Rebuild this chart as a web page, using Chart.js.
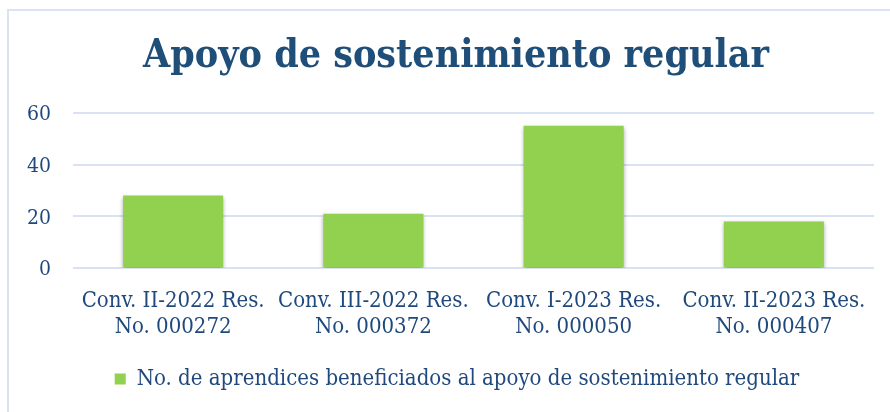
<!DOCTYPE html>
<html><head><meta charset="utf-8">
<script src="https://cdn.jsdelivr.net/npm/chart.js@4.4.0/dist/chart.umd.min.js"></script>
<style>
html,body{margin:0;padding:0;background:#fff;}
#wrap{position:relative;width:890px;height:412px;}
#frame{position:absolute;left:7px;top:9px;width:900px;height:420px;border-left:2px solid #dae3f3;border-top:2px solid #dae3f3;pointer-events:none;}
canvas{position:absolute;left:0;top:0;}
</style></head>
<body>
<div id="wrap"><canvas id="c" width="890" height="412"></canvas><div id="frame"></div></div>
<script>
const titleText = 'Apoyo de sostenimiento regular';
const categories = [
  ['Conv. II-2022 Res.', 'No. 000272'],
  ['Conv. III-2022 Res.', 'No. 000372'],
  ['Conv. I-2023 Res.', 'No. 000050'],
  ['Conv. II-2023 Res.', 'No. 000407']
];
const seriesName = 'No. de aprendices beneficiados al apoyo de sostenimiento regular';
const values = [28, 21, 55, 18];
const yTicks = [0, 20, 40, 60];

const FONT = '"DejaVu Serif Condensed", "DejaVu Serif", serif';
const TXT = '#1f497d';

const shadowPlugin = {
  id: 'barShadow',
  beforeDatasetDraw(chart) {
    const ctx = chart.ctx;
    ctx.save();
    ctx.shadowColor = 'rgba(0,0,0,0.35)';
    ctx.shadowBlur = 4;
    ctx.shadowOffsetY = 2;
  },
  afterDatasetDraw(chart) { chart.ctx.restore(); }
};

const blockShift = {
  id: 'blockShift',
  afterLayout(chart) {
    const t = chart.titleBlock;
    if (t) { t.left += 19; t.right += 19; }
    const l = chart.legend;
    if (l) { l.left += 20; l.right += 20; }
  }
};

new Chart(document.getElementById('c'), {
  type: 'bar',
  data: {
    labels: categories,
    datasets: [{
      label: seriesName,
      data: values,
      backgroundColor: '#92d050',
      borderWidth: 0,
      barPercentage: 0.5,
      categoryPercentage: 1.0
    }]
  },
  options: {
    responsive: false,
    animation: false,
    layout: { padding: { left: 0, right: 16, top: 0, bottom: 12 } },
    plugins: {
      title: {
        display: true, text: titleText, color: '#1f4e79',
        font: { family: FONT, size: 39, weight: 'bold' },
        padding: { top: 33, bottom: 33 }
      },
      legend: {
        position: 'bottom',
        labels: {
          color: TXT, boxWidth: 11, boxHeight: 11, padding: 10,
          font: { family: FONT, size: 22 }
        }
      },
      tooltip: { enabled: false }
    },
    scales: {
      x: {
        grid: { display: false, drawTicks: false },
        border: { display: false },
        ticks: { color: TXT, font: { family: FONT, size: 22 }, padding: 20, maxRotation: 0, autoSkip: false },
        afterFit(s) { s.height = 90; }
      },
      y: {
        min: 0, max: 60,
        afterBuildTicks(s) { s.ticks = yTicks.map(v => ({ value: v })); },
        grid: { color: '#d9e2f3', lineWidth: 2, drawTicks: false },
        border: { display: false },
        ticks: { color: TXT, font: { family: FONT, size: 21 }, padding: 22, labelOffset: 2 },
        afterFit(s) { s.width = 73; }
      }
    }
  },
  plugins: [shadowPlugin, blockShift]
});
</script>
</body></html>
